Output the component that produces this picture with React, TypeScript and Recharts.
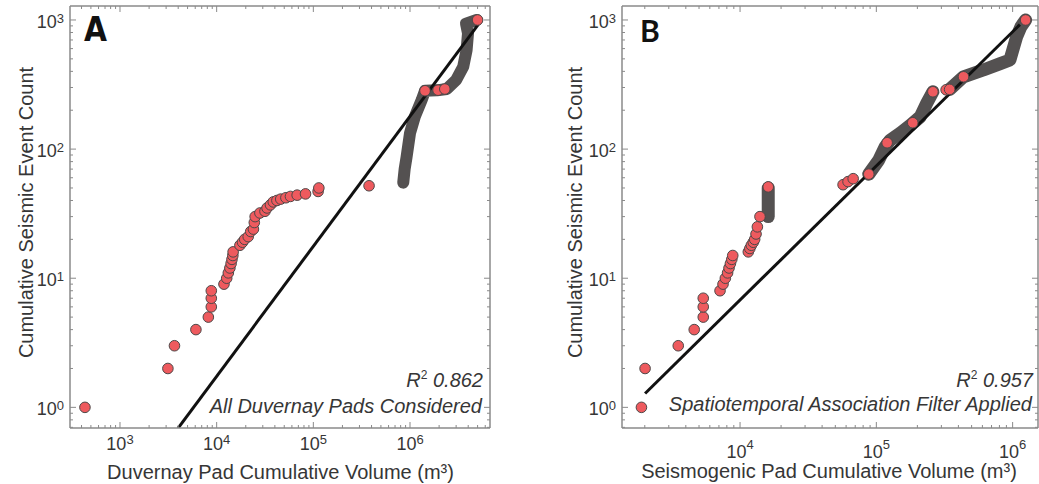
import { ComposedChart, Scatter, Line, XAxis, YAxis } from 'recharts'

const FONT = '"Liberation Sans", Arial, Helvetica, sans-serif'
const RED = '#ee5a5e'
const EDGE = '#4d4848'
const TRACK = '#545151'
const FRAME = '#8a8a8a'
const INK = '#363636'

// Panel A – all Duvernay pads
const padVolumeA = [434, 3130, 3660, 6100, 8200, 8800, 8800, 8800, 11900, 12700, 13200, 13700, 14100, 14400, 14700, 14800, 17400, 18500, 19500, 21200, 22500, 24000, 24500, 25000, 28000, 31600, 33200, 36000, 38500, 42000, 46000, 52000, 58000, 68000, 83000, 112000, 114000, 377000, 1430000, 1950000, 2290000, 5000000]
const eventCountA = [1, 2, 3, 4, 5, 6, 7, 8, 9, 10, 11, 12, 13, 14, 15, 16, 18, 19, 20, 21, 23, 24, 27, 30, 32, 33, 35, 37, 39, 40, 41, 42, 43, 44, 45, 47, 50, 52, 283, 286, 292, 1000]
// densely packed events, drawn as a thick track
const trackVolumeA = [851000, 880000, 922000, 1000000, 1120000, 1320000, 1430000, 1900000, 2400000, 3000000, 3550000, 3850000, 3980000, 3800000, 4900000]
const trackCountA = [55, 70, 87, 133, 178, 240, 283, 285, 292, 343, 434, 585, 788, 935, 1000]
const fitVolumeA = [3990, 5070000]
const fitCountA = [0.69, 920]

// Panel B – spatiotemporal association filter applied
const padVolumeB = [1890, 2010, 3520, 4610, 5370, 5370, 5370, 7130, 7500, 7800, 8100, 8300, 8500, 8700, 8840, 11500, 11800, 12100, 12500, 12800, 13100, 13400, 14000, 16100, 57000, 62000, 67600, 88000, 120000, 185000, 260000, 325000, 345000, 436000, 1245000]
const eventCountB = [1, 2, 3, 4, 5, 6, 7, 8, 9, 10, 11, 12, 13, 14, 15, 16, 17, 18, 19, 20, 22, 25, 30, 51, 53, 56, 59, 64, 112, 160, 278, 288, 290, 363, 1000]
const trackVolumeB1 = [16100, 16100]
const trackCountB1 = [30, 50]
const trackVolumeB2 = [88000, 104000, 116000, 126000, 150000, 178000, 210000, 234000, 260000]
const trackCountB2 = [64, 82, 104, 117, 133, 153, 178, 226, 278]
const trackVolumeB3 = [345000, 436000, 610000, 811000, 955000, 1070000, 1150000, 1245000]
const trackCountB3 = [290, 363, 410, 459, 490, 742, 887, 1000]
const fitVolumeB = [2010, 1130000]
const fitCountB = [1.28, 920]

const xDomainA: [number, number] = [304, 6720000]
const xDomainB: [number, number] = [1361, 1535000]
const yDomain: [number, number] = [0.692, 1283]

type Pt = { x: number; y: number }
const zip = (xs: number[], ys: number[]): Pt[] => xs.map((x, i) => ({ x, y: ys[i] }))

function logTicks(lo: number, hi: number) {
  const out: number[] = []
  for (let p = Math.floor(Math.log10(lo)); p <= Math.ceil(Math.log10(hi)); p++) {
    for (let m = 1; m <= 9; m++) {
      const v = Number((m * Math.pow(10, p)).toPrecision(6))
      if (v >= lo && v <= hi) out.push(v)
    }
  }
  return out
}

const isDecade = (v: number) => {
  const e = Math.log10(v)
  return Math.abs(e - Math.round(e)) < 1e-9
}

type Side = 'bottom' | 'top' | 'left' | 'right'
interface LabelStyle { baseline: number; supDy: number; size: number; supSize: number }

// inward tick marks (major + minor) on every side, labels only bottom/left
function makeTick(side: Side, label?: LabelStyle) {
  return (props: any) => {
    const { x, y, payload } = props
    const v = payload.value as number
    const major = isDecade(v)
    const len = major ? 6 : 3
    const dx = side === 'left' ? len : side === 'right' ? -len : 0
    const dy = side === 'bottom' ? -len : side === 'top' ? len : 0
    const exp = Math.round(Math.log10(v))
    const showLabel = major && label && (side === 'bottom' || side === 'left')
    return (
      <g>
        <line x1={x} y1={y} x2={x + dx} y2={y + dy} stroke={FRAME} strokeWidth={1} />
        {showLabel && (
          <text
            x={side === 'left' ? x - 6 : x}
            y={y + label!.baseline}
            textAnchor={side === 'left' ? 'end' : 'middle'}
            fontFamily={FONT}
            fontSize={label!.size}
            fill={INK}
          >
            <tspan>10</tspan>
            <tspan dy={label!.supDy} fontSize={label!.supSize}>{exp}</tspan>
          </text>
        )}
      </g>
    )
  }
}

interface PanelProps {
  width: number
  margin: { top: number; right: number; bottom: number; left: number }
  xDomain: [number, number]
  xLabel: LabelStyle
  yLabel: LabelStyle
  points: Pt[]
  tracks: Pt[][]
  trackWidth: number
  fit: Pt[]
}

function Panel({ width, margin, xDomain, xLabel, yLabel, points, tracks, trackWidth, fit }: PanelProps) {
  const xTicks = logTicks(xDomain[0], xDomain[1])
  const yTicks = logTicks(yDomain[0], yDomain[1])
  const frame = { stroke: FRAME, strokeWidth: 1.5 }
  const common = { type: 'number' as const, scale: 'log' as const, allowDataOverflow: true, interval: 0 as const, tickSize: 0, tickMargin: 0, tickLine: false, axisLine: frame }
  // axes are 1px thick, so the margins below are one pixel short of the plot box
  const m = { top: margin.top - 1, right: margin.right - 1, bottom: margin.bottom - 1, left: margin.left - 1 }
  return (
    <ComposedChart width={width} height={484} margin={m}>
      <XAxis xAxisId="x" dataKey="x" domain={xDomain} ticks={xTicks} height={1} tick={makeTick('bottom', xLabel)} {...common} />
      <XAxis xAxisId="xTop" orientation="top" dataKey="x" domain={xDomain} ticks={xTicks} height={1} tick={makeTick('top')} {...common} />
      <YAxis yAxisId="y" dataKey="y" domain={yDomain} ticks={yTicks} width={1} tick={makeTick('left', yLabel)} {...common} />
      <YAxis yAxisId="yRight" orientation="right" dataKey="y" domain={yDomain} ticks={yTicks} width={1} tick={makeTick('right')} {...common} />
      {tracks.map((t, i) => (
        <Line
          key={i}
          xAxisId="x"
          yAxisId="y"
          data={t}
          dataKey="y"
          type="linear"
          stroke={TRACK}
          strokeWidth={trackWidth}
          strokeLinecap="round"
          strokeLinejoin="round"
          dot={false}
          activeDot={false}
          isAnimationActive={false}
        />
      ))}
      <Line xAxisId="x" yAxisId="y" data={fit} dataKey="y" type="linear" stroke="#111" strokeWidth={3} dot={false} activeDot={false} isAnimationActive={false} />
      <Scatter
        xAxisId="x"
        yAxisId="y"
        data={points}
        isAnimationActive={false}
        shape={(p: any) => <circle cx={p.cx} cy={p.cy} r={5.3} fill={RED} stroke={EDGE} strokeWidth={1} />}
      />
    </ComposedChart>
  )
}

const textStyle = { fontFamily: FONT, fontSize: 20, fill: INK }

export default function App() {
  return (
    <div style={{ position: 'absolute', left: 0, top: 0, width: 1039, height: 484, overflow: 'hidden', background: '#fff' }}>
      <div style={{ position: 'absolute', left: 0, top: 0 }}>
        <Panel
          width={520}
          margin={{ top: 6, right: 30, bottom: 56, left: 70 }}
          xDomain={xDomainA}
          xLabel={{ baseline: 22, supDy: -6, size: 18, supSize: 13 }}
          yLabel={{ baseline: 8, supDy: -5, size: 18, supSize: 13 }}
          points={zip(padVolumeA, eventCountA)}
          tracks={[zip(trackVolumeA, trackCountA)]}
          trackWidth={12}
          fit={zip(fitVolumeA, fitCountA)}
        />
      </div>
      <div style={{ position: 'absolute', left: 520, top: 0 }}>
        <Panel
          width={519}
          margin={{ top: 6, right: 1, bottom: 56, left: 102 }}
          xDomain={xDomainB}
          xLabel={{ baseline: 30, supDy: -9, size: 18, supSize: 13 }}
          yLabel={{ baseline: 8, supDy: -5, size: 18, supSize: 13 }}
          points={zip(padVolumeB, eventCountB)}
          tracks={[zip(trackVolumeB1, trackCountB1), zip(trackVolumeB2, trackCountB2), zip(trackVolumeB3, trackCountB3)]}
          trackWidth={13}
          fit={zip(fitVolumeB, fitCountB)}
        />
      </div>
      <svg width={1039} height={484} style={{ position: 'absolute', left: 0, top: 0, pointerEvents: 'none' }}>
        <text x={84} y={41} fontFamily='"Liberation Sans Narrow", "DejaVu Sans Condensed", sans-serif' fontWeight="bold" fontSize={33} fill="#111">A</text>
        <text x={640} y={42} fontFamily='Lato, "Open Sans", sans-serif' fontWeight="bold" fontSize={30} fill="#111">B</text>

        <text transform="translate(32.5,212.5) rotate(-90)" textAnchor="middle" {...textStyle}>Cumulative Seismic Event Count</text>
        <text transform="translate(582,212.5) rotate(-90)" textAnchor="middle" {...textStyle}>Cumulative Seismic Event Count</text>
        <text x={280.5} y={479} textAnchor="middle" {...textStyle}>Duvernay Pad Cumulative Volume (m³)</text>
        <text x={829} y={478} textAnchor="middle" {...textStyle}>Seismogenic Pad Cumulative Volume (m³)</text>

        <text x={483} y={387} textAnchor="end" fontStyle="italic" {...textStyle}>
          <tspan>R</tspan>
          <tspan dy={-8} fontSize={12} fontStyle="normal">2</tspan>
          <tspan dy={8}> 0.862</tspan>
        </text>
        <text x={482} y={413} textAnchor="end" fontStyle="italic" {...textStyle}>All Duvernay Pads Considered</text>
        <text x={1033} y={387} textAnchor="end" fontStyle="italic" {...textStyle}>
          <tspan>R</tspan>
          <tspan dy={-8} fontSize={12} fontStyle="normal">2</tspan>
          <tspan dy={8}> 0.957</tspan>
        </text>
        <text x={1032} y={411} textAnchor="end" fontStyle="italic" {...textStyle}>Spatiotemporal Association Filter Applied</text>
      </svg>
    </div>
  )
}
